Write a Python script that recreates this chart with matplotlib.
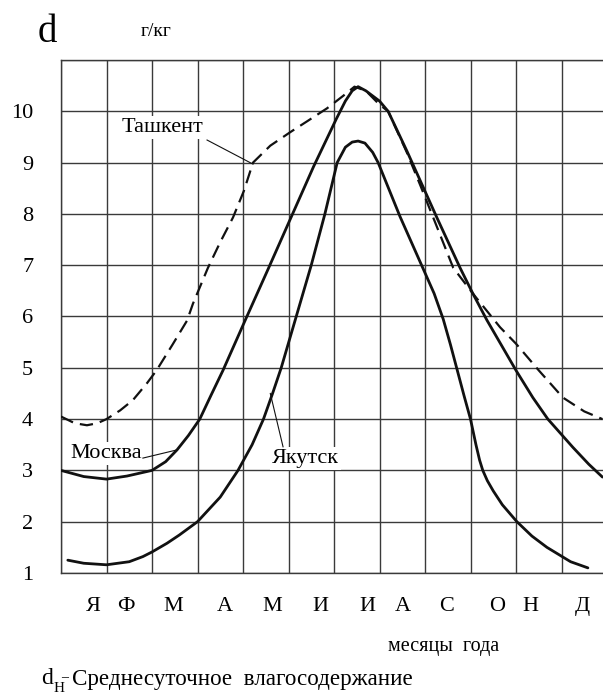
import matplotlib
matplotlib.use("Agg")
import matplotlib.pyplot as plt

# months of the year (Russian initials) and where they sit on the grid
month_labels = ["Я", "Ф", "М", "А", "М", "И", "И", "А", "С", "О", "Н", "Д"]
month_pos = [0.70, 1.43, 2.46, 3.60, 4.64, 5.69, 6.73, 7.52, 8.48, 9.58, 10.31, 11.45]
y_ticks = [1, 2, 3, 4, 5, 6, 7, 8, 9, 10]

# Moscow
moscow_x = [0.0, 0.5, 1.0, 1.45, 2.0, 2.3, 2.55, 2.8, 3.05, 3.3, 3.56, 4.05, 4.55,
            5.05, 5.55, 6.05, 6.25, 6.4, 6.53, 6.7, 7.0, 7.19, 7.6, 8.26, 8.77,
            9.05, 9.36, 10.0, 10.37, 10.7, 11.25, 11.6, 11.9]
moscow_y = [3.0, 2.88, 2.83, 2.89, 3.0, 3.17, 3.4, 3.68, 4.0, 4.47, 4.95, 5.93, 6.92,
            7.92, 8.92, 9.85, 10.2, 10.4, 10.48, 10.4, 10.2, 10.0, 9.23, 7.93, 6.95,
            6.45, 5.93, 4.95, 4.42, 4.0, 3.45, 3.12, 2.87]

# Yakutsk
yakutsk_x = [0.15, 0.5, 1.0, 1.5, 1.8, 2.0, 2.33, 2.6, 3.0, 3.5, 3.89, 4.2, 4.45,
             4.65, 4.84, 5.17, 5.5, 5.8, 6.07, 6.25, 6.4, 6.53, 6.68, 6.85, 6.97,
             7.45, 7.95, 8.2, 8.4, 8.56, 8.71, 8.86, 9.0, 9.12, 9.2, 9.27, 9.37,
             9.5, 9.7, 10.02, 10.35, 10.68, 11.2, 11.58]
yakutsk_y = [1.25, 1.19, 1.16, 1.22, 1.32, 1.41, 1.58, 1.74, 2.0, 2.48, 3.0, 3.5, 4.0,
             4.5, 5.0, 6.0, 7.0, 8.0, 9.0, 9.3, 9.4, 9.42, 9.38, 9.2, 9.0,
             7.95, 6.95, 6.45, 5.95, 5.45, 4.95, 4.45, 4.0, 3.5, 3.2, 3.0, 2.8,
             2.6, 2.33, 2.0, 1.72, 1.5, 1.22, 1.1]

# Tashkent
tashkent_x = [0.0, 0.3, 0.57, 0.8, 1.0, 1.3, 1.58, 1.89, 2.1, 2.45, 2.77, 2.9, 3.23,
              3.5, 3.78, 4.02, 4.22, 4.6, 5.05, 5.4, 5.85, 6.2, 6.45, 6.7, 7.0,
              7.19, 7.6, 7.9, 8.18, 8.62, 9.05, 9.65, 10.0, 10.5, 11.03, 11.5, 11.9]
tashkent_y = [4.05, 3.92, 3.88, 3.92, 4.0, 4.17, 4.37, 4.7, 4.95, 5.45, 5.92, 6.25, 6.95,
              7.45, 7.93, 8.45, 9.0, 9.33, 9.6, 9.8, 10.06, 10.3, 10.48, 10.4, 10.13,
              10.0, 9.2, 8.55, 7.93, 6.95, 6.45, 5.79, 5.47, 4.95, 4.42, 4.15, 4.0]

plt.rcParams['font.family'] = ['Liberation Serif', 'DejaVu Serif']

W, H = 603, 695
fig = plt.figure(figsize=(W / 100, H / 100), dpi=100)
ax = fig.add_axes([61 / W, (H - 573) / H, 542 / W, 513 / H])

ink = "#111111"
ax.plot(moscow_x, moscow_y, color=ink, lw=2.0, solid_capstyle="round",
        solid_joinstyle="round", zorder=4)
ax.plot(yakutsk_x, yakutsk_y, color=ink, lw=2.0, solid_capstyle="round",
        solid_joinstyle="round", zorder=4)
ax.plot(tashkent_x, tashkent_y, color=ink, lw=1.6, dashes=(6, 3.2), zorder=4)

ax.set_xlim(0, 542 / 45.5)
ax.set_ylim(1, 1 + 513 / 51.3)

# grid: integer positions, labels only via minor ticks
ax.set_xticks(range(0, 12))
ax.set_xticklabels([])
ax.set_xticks(month_pos, month_labels, minor=True)
ax.set_yticks(y_ticks)
ax.set_yticklabels([str(v) for v in y_ticks])
ax.tick_params(axis="both", which="both", length=0)
ax.tick_params(axis="y", labelsize=16, pad=20)
ax.tick_params(axis="x", which="minor", labelsize=16, pad=17)
ax.grid(True, which="major", color="#3a3a3a", lw=1.0)
ax.axhline(11, color="#3a3a3a", lw=1.0)

for side in ["left", "bottom", "top"]:
    ax.spines[side].set_color("#3a3a3a")
    ax.spines[side].set_linewidth(1.0)
ax.spines["right"].set_visible(False)

# curve names with leader lines
box = dict(facecolor="white", edgecolor="none", pad=1.5)
ax.text(2.22, 9.69, "Ташкент", fontsize=16, ha="center", va="center", bbox=box, zorder=3)
ax.plot([3.21, 4.22], [9.44, 8.97], color=ink, lw=0.8, zorder=3)
ax.text(0.99, 3.32, "Москва", fontsize=16, ha="center", va="center", bbox=box, zorder=3)
ax.plot([1.8, 2.55], [3.24, 3.4], color=ink, lw=0.8, zorder=3)
ax.text(5.38, 3.24, "Якутск", fontsize=16, ha="center", va="center", bbox=box, zorder=3)
ax.plot([4.88, 4.6], [3.46, 4.5], color=ink, lw=0.8, zorder=3)

# captions around the plot, positioned in pixels
def px(x, y):
    return x / W, 1 - y / H

fig.text(*px(47, 33), "d", fontsize=28, ha="center", va="center")
fig.text(*px(156, 31), "г/кг", fontsize=14, ha="center", va="center")
fig.text(*px(444, 646), "месяцы  года", fontsize=14.5, ha="center", va="center")
fig.text(*px(47, 679), "d", fontsize=17, ha="center", va="center")
fig.text(*px(59, 688), "H", fontsize=11, ha="center", va="center")
fig.text(*px(65, 678), "–", fontsize=10, ha="center", va="center")
fig.text(*px(72, 680), "Среднесуточное  влагосодержание", fontsize=16.6,
         ha="left", va="center")

fig.savefig("out.png", dpi=100)
